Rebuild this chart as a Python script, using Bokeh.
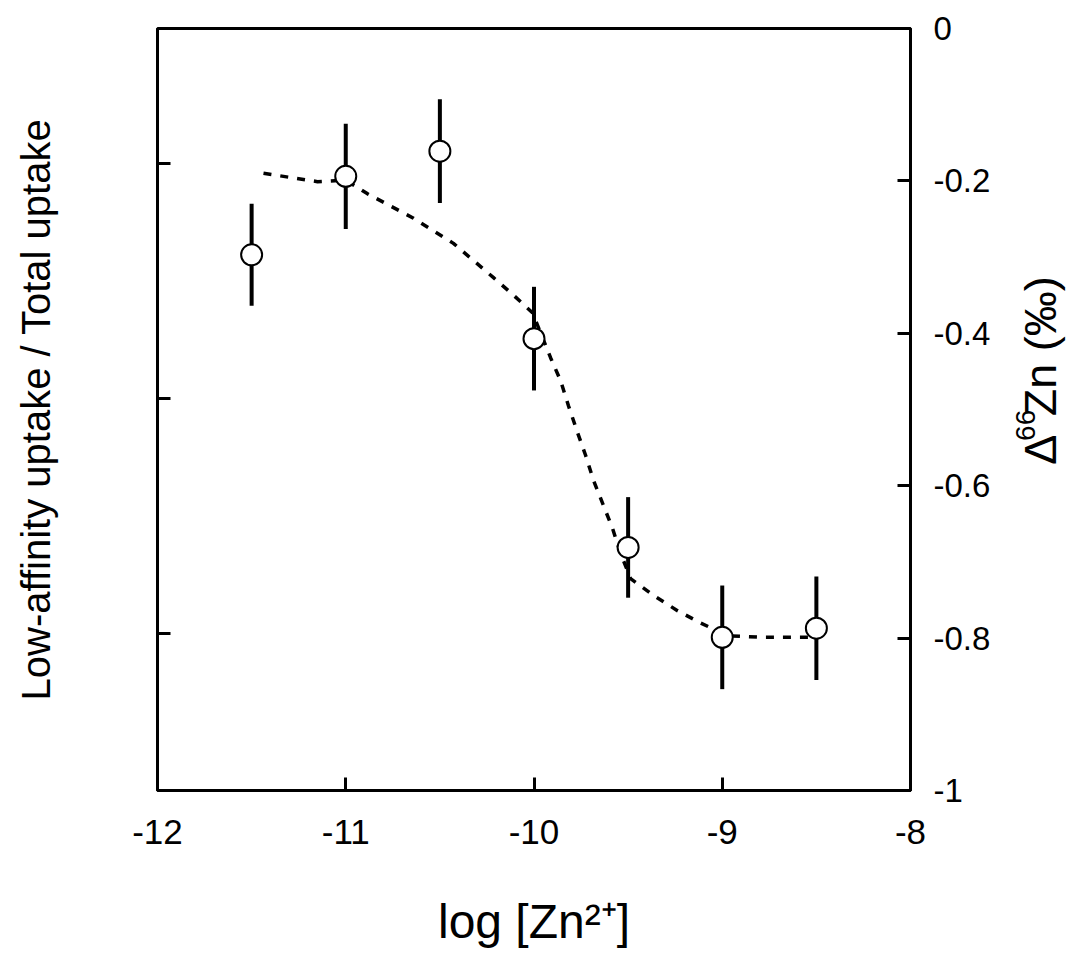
import math
from bokeh.plotting import figure
from bokeh.layouts import row
from bokeh.models import Range1d, LinearAxis, FixedTicker, ColumnDataSource
from bokeh.core.properties import value
from bokeh.embed import file_html
from bokeh.resources import INLINE

# ---------------- data ----------------
log_zn = [-11.5, -11.0, -10.5, -10.0, -9.5, -9.0, -8.5]
d66zn = [-0.297, -0.194, -0.161, -0.407, -0.681, -0.799, -0.787]
d66zn_err = [0.067, 0.069, 0.068, 0.068, 0.066, 0.068, 0.068]

fit_x = [-11.437, -11.15, -11.0, -10.884, -10.64, -10.428, -10.215, -10.109, -10.008,
         -9.912, -9.859, -9.817, -9.769, -9.726, -9.684, -9.631, -9.583, -9.541, -9.487,
         -9.365, -9.238, -9.116, -8.972, -8.781, -8.584, -8.494]
fit_y = [-0.190, -0.201, -0.199, -0.217, -0.249, -0.282, -0.327, -0.350, -0.373,
         -0.432, -0.462, -0.495, -0.530, -0.560, -0.593, -0.626, -0.656, -0.688, -0.722,
         -0.744, -0.764, -0.780, -0.797, -0.799, -0.799, -0.799]

x_ticks = [-12, -11, -10, -9, -8]
x_tick_labels = ["-12", "-11", "-10", "-9", "-8"]
y_ticks = [0, -0.2, -0.4, -0.6, -0.8, -1]
y_tick_labels = ["0", "-0.2", "-0.4", "-0.6", "-0.8", "-1"]
frac_ticks = [0.2, 0.5, 0.8]

x_title = "log [Zn\u00b2\u207a]"
y_left_title = "Low-affinity uptake / Total uptake"
y_right_parts = ["\u0394", "66", "Zn (\u2030)"]

FONT = "Liberation Sans"

# ---------------- layout constants (px) ----------------
W, H = 1069, 959
SIDE_W = 59
W1 = W - SIDE_W
BL, BT = 157, 28
FW, FH = 753, 762
BR, BB = W1 - BL - FW, H - BT - FH

p = figure(width=W1, height=H, x_range=Range1d(-12, -8), y_range=Range1d(-1, 0),
           output_backend="svg", toolbar_location=None,
           x_axis_location=None, y_axis_location=None,
           min_border_left=BL, min_border_right=BR, min_border_top=BT, min_border_bottom=BB)
p.background_fill_color = "white"
p.border_fill_color = "white"
p.outline_line_color = "black"
p.outline_line_width = 3
p.xgrid.visible = False
p.ygrid.visible = False

p.extra_y_ranges = {"frac": Range1d(0, 0.973)}

bottom_axis = LinearAxis(ticker=FixedTicker(ticks=x_ticks), axis_label=x_title)
bottom_axis.major_label_overrides = dict(zip(x_ticks, x_tick_labels))
bottom_axis.major_label_text_font_size = "35px"
bottom_axis.major_label_standoff = 29
bottom_axis.axis_label_text_font_size = "48px"
bottom_axis.axis_label_standoff = 48

right_axis = LinearAxis(ticker=FixedTicker(ticks=y_ticks))
right_axis.major_label_overrides = dict(zip(y_ticks, y_tick_labels))
right_axis.major_label_text_font_size = "33px"
right_axis.major_label_standoff = 23

left_axis = LinearAxis(y_range_name="frac", ticker=FixedTicker(ticks=frac_ticks),
                       axis_label=y_left_title)
left_axis.major_label_text_font_size = "0px"
left_axis.major_label_text_alpha = 0
left_axis.major_label_standoff = 0
left_axis.axis_label_text_font_size = "40px"
left_axis.axis_label_standoff = 100

for ax in [bottom_axis, right_axis, left_axis]:
    ax.axis_line_color = "black"
    ax.axis_line_width = 3
    ax.major_tick_in = 13
    ax.major_tick_out = 0
    ax.major_tick_line_width = 3
    ax.major_tick_line_color = "black"
    ax.minor_tick_line_color = None
    ax.major_label_text_color = "black"
    ax.major_label_text_font = FONT
    ax.axis_label_text_font = FONT
    ax.axis_label_text_font_style = "normal"
    ax.axis_label_text_color = "black"

p.add_layout(bottom_axis, "below")
p.add_layout(right_axis, "right")
p.add_layout(left_axis, "left")

# ---------------- glyphs ----------------
fit_src = ColumnDataSource(dict(x=fit_x, y=fit_y))
p.line("x", "y", source=fit_src, line_color="black", line_width=3.5, line_dash="8 9")

lo = [y - e for y, e in zip(d66zn, d66zn_err)]
hi = [y + e for y, e in zip(d66zn, d66zn_err)]
pts = ColumnDataSource(dict(x=log_zn, y=d66zn, lo=lo, hi=hi))
p.segment(x0="x", y0="lo", x1="x", y1="hi", source=pts, line_color="black", line_width=4)
p.scatter("x", "y", source=pts, marker="circle", size=21, fill_color="white",
          line_color="black", line_width=2)

# ---------------- right-hand title (separate panel, pixel-like coordinates) ----------------
side = figure(width=SIDE_W, height=H, x_range=Range1d(W1, W), y_range=Range1d(H, 0),
              output_backend="svg", toolbar_location=None,
              x_axis_location=None, y_axis_location=None,
              min_border_left=0, min_border_right=0, min_border_top=0, min_border_bottom=0)
side.outline_line_color = None
side.xgrid.visible = False
side.ygrid.visible = False
side.background_fill_color = "white"
side.border_fill_color = "white"

# (x = baseline position, y = start of text, reading upwards)
side_pos_x = [1040, 1025, 1040]
side_pos_y = [549, 519, 488]
side_sizes = ["45px", "28px", "45px"]
side_src = ColumnDataSource(dict(x=side_pos_x, y=side_pos_y, t=y_right_parts, s=side_sizes))
side.text(x="x", y="y", text="t", source=side_src, angle=math.pi / 2,
          text_font=value(FONT), text_font_size="s", text_color="black",
          text_align="left", text_baseline="alphabetic")

layout = row(p, side, spacing=0)
open("out.html", "w").write(file_html(layout, INLINE))
